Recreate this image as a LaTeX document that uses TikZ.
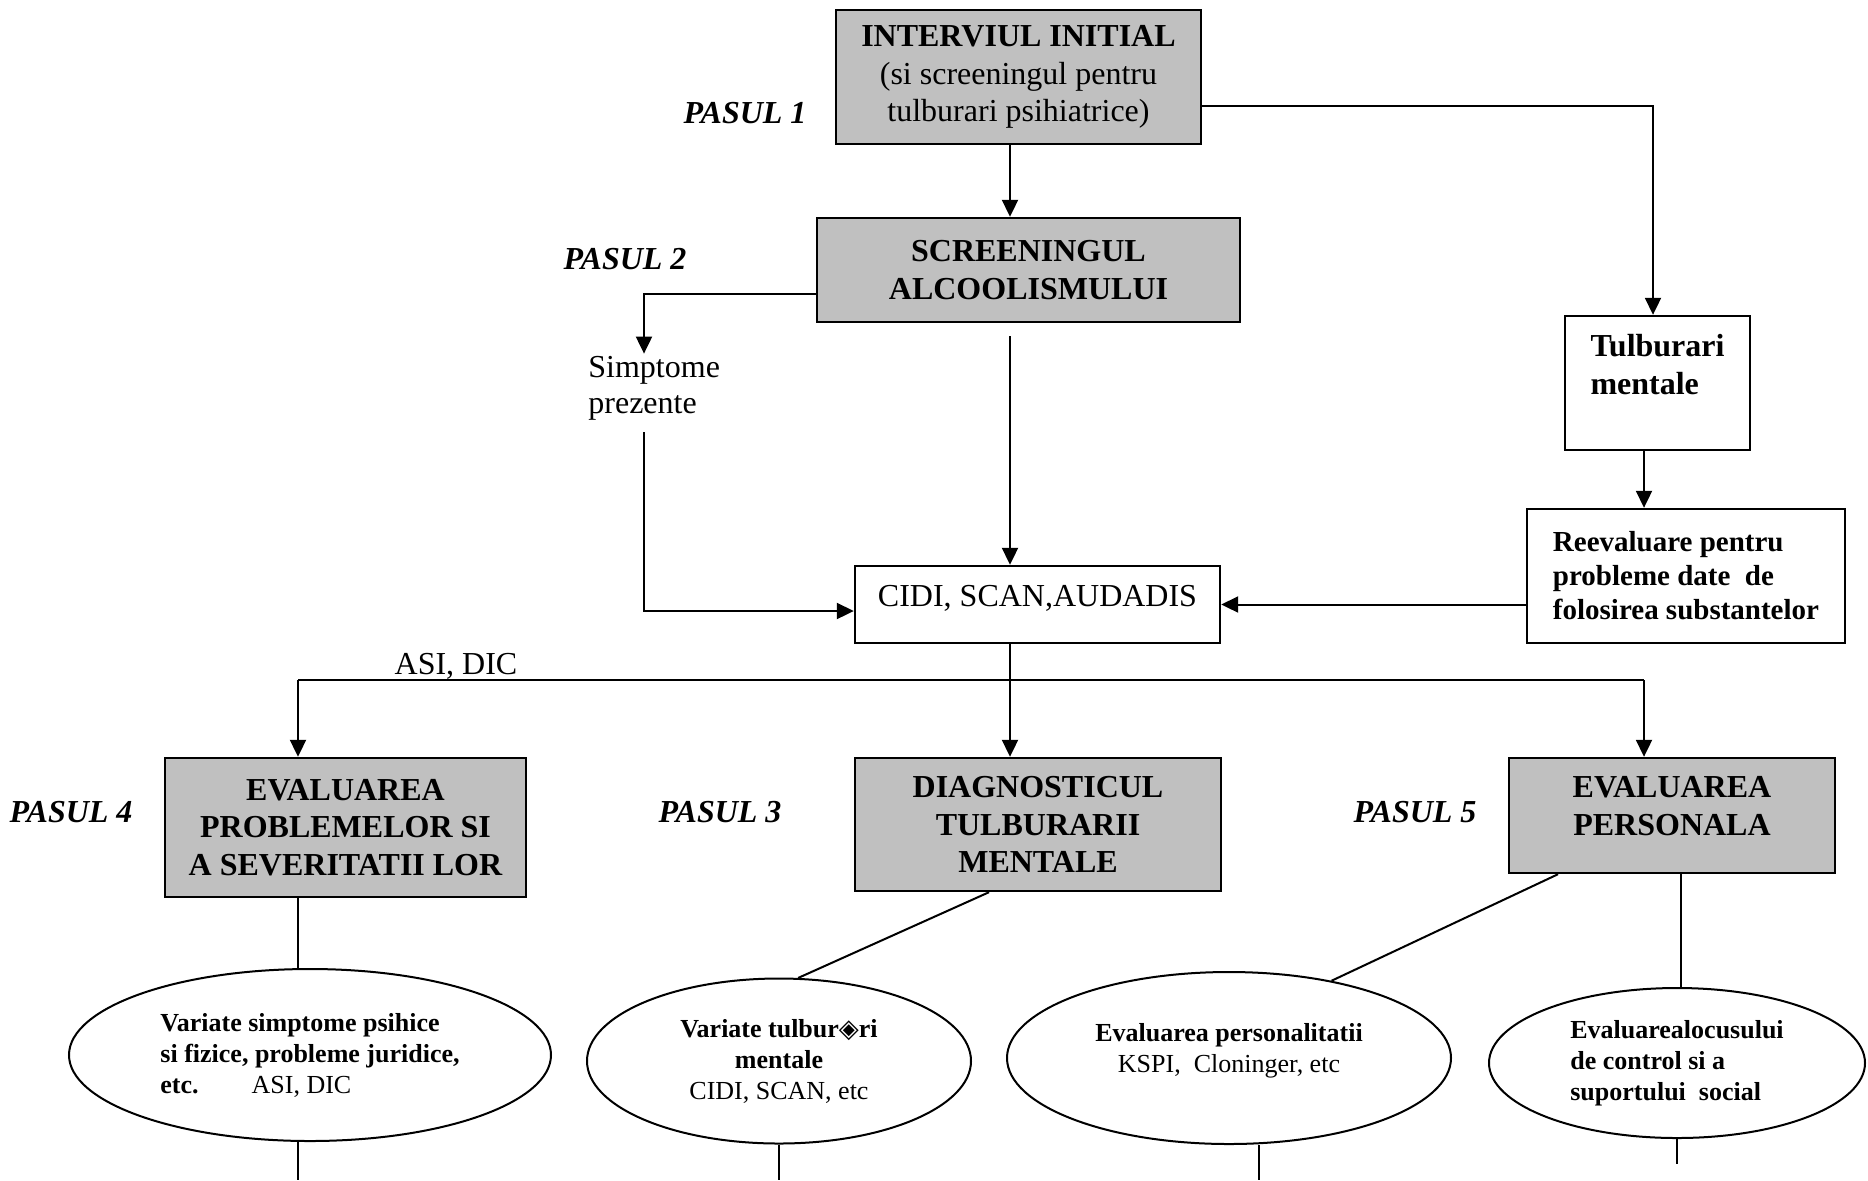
\documentclass[tikz,border=0pt]{standalone}
\usepackage{fontspec}
\setmainfont{Liberation Serif}
\newfontfamily\glyphfont{DejaVu Sans}
\usepackage{tikz}
\usetikzlibrary{arrows.meta,positioning,calc,shapes.geometric}
\definecolor{boxgray}{RGB}{192,192,192}
\tikzset{
  graybox/.style={draw, line width=1.2pt, fill=boxgray, inner sep=0pt,
    align=center, font=\bfseries\fontsize{16}{18.8}\selectfont},
  whitebox/.style={draw, line width=1.2pt, fill=white, inner sep=0pt,
    align=center, font=\fontsize{16}{18.8}\selectfont},
  boldbox/.style={whitebox, align=left, font=\bfseries\fontsize{16}{18.8}\selectfont},
  ovalnode/.style={ellipse, draw, line width=1pt, inner sep=0pt,
    align=center, font=\fontsize{13}{15.5}\selectfont},
  steplabel/.style={inner sep=0pt, font=\bfseries\itshape\fontsize{16}{18.8}\selectfont},
  plaintext/.style={inner sep=1pt, align=left, font=\fontsize{16}{18}\selectfont},
  flow/.style={-{Triangle[length=8.5pt,width=8pt]}, line width=1pt},
  link/.style={line width=1pt}
}

\begin{document}
\begin{tikzpicture}[x=0.5pt,y=-0.5pt]
\useasboundingbox (0,0) rectangle (1868,1180);
\coordinate (spine) at (1010,0);
\coordinate (rt) at (1653,106);
\coordinate (tr) at (1644,0);
\coordinate (sx) at (644,294);
\coordinate (busL) at (298,680);
\coordinate (busR) at (1644,680);
\coordinate (pv) at (1681,0);
\coordinate (e3b) at (1259,1180);

\node[graybox, minimum width=182.5pt, minimum height=67pt] (init) at (1018.5,77)
  {INTERVIUL INITIAL\\\mdseries (si screeningul pentru\\\mdseries tulburari psihiatrice)};
\node[graybox, minimum width=211.5pt, minimum height=52pt] (screen) at (1028.5,270)
  {SCREENINGUL\\ALCOOLISMULUI};
\node[whitebox, minimum width=182.5pt, minimum height=38.5pt, text depth=9pt] (cidi) at (1037.5,604.5)
  {CIDI, SCAN,AUDADIS};
\node[boldbox, minimum width=92.5pt, minimum height=67pt] (tulb) at (1657.5,383)
  {Tulburari\\mentale\\\mbox{}};
\node[boldbox, font=\bfseries\fontsize{14.5}{17}\selectfont, minimum width=159pt,
  minimum height=67pt] (reev) at (1686,576)
  {Reevaluare pentru\\probleme date\ \ de\\folosirea substantelor};
\node[plaintext, anchor=west] (simpt) at (586,388) {Simptome\\prezente};

\node[graybox, minimum width=180.5pt, minimum height=69.5pt] (probl) at (345.5,827.5)
  {EVALUAREA\\PROBLEMELOR SI\\A SEVERITATII LOR};
\node[graybox, minimum width=183pt, minimum height=66.5pt] (diag) at (1038,824.5)
  {DIAGNOSTICUL\\TULBURARII\\MENTALE};
\node[graybox, minimum width=163pt, minimum height=57.5pt] (pers) at (1672,815.5)
  {EVALUAREA\\PERSONALA\\[-9pt]\mbox{}};
\node[plaintext, inner sep=0pt] (asi) at (456,666) {ASI, DIC};

\node[steplabel] (step1) at (745,113) {PASUL 1};
\node[steplabel] (step2) at (625,259) {PASUL 2};
\node[steplabel] (step3) at (720,812) {PASUL 3};
\node[steplabel] (step4) at (71,812) {PASUL 4};
\node[steplabel] (step5) at (1415,812) {PASUL 5};

\node[ovalnode, align=left, minimum width=241pt, minimum height=86pt] (ell1) at (310,1055)
  {\textbf{Variate simptome psihice}\\\textbf{si fizice, probleme juridice,}\\
   \textbf{etc.}\hspace{26.5pt}ASI, DIC};
\node[ovalnode, minimum width=192pt, minimum height=82.5pt] (ell2) at (779,1061)
  {\textbf{Variate tulbur{\glyphfont ◈}ri}\\\textbf{mentale}\\CIDI, SCAN, etc};
\node[ovalnode, minimum width=222pt, minimum height=86pt] (ell3) at (1229,1058)
  {\textbf{Evaluarea personalitatii}\\KSPI,\ \ Cloninger, etc\\[-5pt]\mbox{}};
\node[ovalnode, align=left, minimum width=188pt, minimum height=75pt] (ell4) at (1677,1063)
  {\textbf{Evaluarealocusului}\\\textbf{de control si a}\\\textbf{suportului\ \ social}};

\draw[flow] (init.south -| spine) -- (screen.north -| spine);
\draw[flow] (init.east |- rt) -- (rt) -- (tulb.north -| rt);
\draw[flow] (screen.west |- sx) -- (sx) -- (simpt.north -| sx);
\draw[flow] ($(simpt.south -| sx)+(0,10)$) |- ($(cidi.west)+(0,6.5)$);
\draw[flow] ($(screen.south -| spine)+(0,13)$) -- (cidi.north -| spine);
\draw[flow] (tulb.south -| tr) -- (reev.north -| tr);
\draw[flow] (reev.west |- cidi.east) -- (cidi.east);

\draw[link] (cidi.south -| spine) -- (busL -| spine);
\draw[link] (busL) -- (busR);
\draw[flow] (busL) -- (probl.north -| busL);
\draw[flow] (busL -| spine) -- (diag.north -| spine);
\draw[flow] (busR) -- (pers.north -| busR);

\draw[link] (probl.south -| busL) -- (ell1.north -| busL);
\draw[link] (ell1.south -| busL) -- (busL |- e3b);
\draw[link] ($(diag.south)+(-49,0)$) -- (ell2.77);
\draw[link] (ell2.south) -- (ell2.south |- e3b);
\draw[link] ($(pers.south)+(-114,0)$) -- (ell3.37);
\draw[link] (ell3.south -| e3b) -- (e3b);
\draw[link] (pers.south -| pv) -- (ell4.north -| pv);
\draw[link] (ell4.south) -- ++(0,25);
\end{tikzpicture}
\end{document}
